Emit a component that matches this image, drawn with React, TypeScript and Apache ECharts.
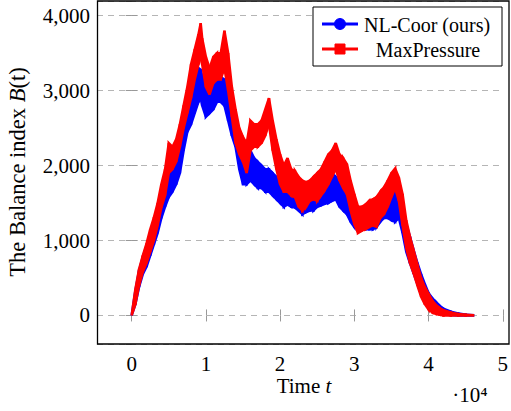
import React, { useEffect, useRef } from "react";
import * as echarts from "echarts";

// time in units of 10^4
const times = [
  0.0, 0.05, 0.1, 0.15, 0.2, 0.25, 0.3, 0.35, 0.4, 0.45, 0.5, 0.55, 0.6, 0.65, 0.7, 0.75, 0.8, 0.85, 0.9, 0.93,
  0.95, 1.0, 1.05, 1.1, 1.15, 1.2, 1.25, 1.3, 1.35, 1.4, 1.45, 1.5, 1.55, 1.6, 1.65, 1.7, 1.75, 1.8, 1.85, 1.9,
  1.95, 2.0, 2.05, 2.1, 2.15, 2.2, 2.25, 2.3, 2.35, 2.4, 2.45, 2.5, 2.55, 2.6, 2.65, 2.7, 2.75, 2.8, 2.85, 2.9,
  2.95, 3.0, 3.05, 3.1, 3.15, 3.2, 3.25, 3.3, 3.35, 3.4, 3.45, 3.5, 3.55, 3.6, 3.65, 3.7, 3.75, 3.8, 3.85, 3.9,
  3.95, 4.0, 4.05, 4.1, 4.15, 4.2, 4.3, 4.4, 4.5, 4.6,
];

// MaxPressure band (low / high envelope of the noisy trace)
const redLow = [
  0, 150, 400, 580, 700, 850, 1000, 1200, 1440, 1600, 1900, 1950, 2050, 2250, 2500, 2700, 2900, 3150, 3350, 3450,
  3350, 3050, 2950, 3100, 3150, 3150, 3300, 3000, 2650, 2300, 2150, 2050, 1900, 2200, 2250, 2250, 2300, 2400, 2550, 2200,
  1950, 1750, 1650, 1650, 1600, 1580, 1450, 1400, 1450, 1530, 1550, 1530, 1600, 1670, 1750, 1850, 1950, 1800, 1700, 1620,
  1400, 1220, 1100, 1130, 1150, 1180, 1200, 1180, 1300, 1350, 1450, 1580, 1700, 1530, 1200, 900, 700, 560, 400, 250,
  150, 80, 40, 20, 10, 0, 0, 0, 0, 0,
];
const redHigh = [
  0, 350, 620, 800, 960, 1150, 1310, 1500, 1750, 1950, 2300, 2250, 2350, 2550, 2800, 3050, 3350, 3550, 3750, 3900,
  3700, 3450, 3300, 3450, 3500, 3500, 3800, 3500, 3050, 2750, 2500, 2380, 2300, 2600, 2550, 2550, 2600, 2750, 2900, 2600,
  2350, 2150, 2000, 2100, 1950, 1930, 1850, 1800, 1780, 1800, 1850, 1900, 1950, 2050, 2150, 2200, 2300, 2150, 2100, 2020,
  1800, 1620, 1450, 1450, 1480, 1530, 1550, 1580, 1650, 1710, 1800, 1900, 1960, 1840, 1620, 1270, 1050, 870, 680, 500,
  380, 290, 200, 140, 100, 70, 40, 20, 10, 5,
];

// NL-Coor (ours) band
const blueLow = [
  0, 150, 380, 550, 650, 800, 950, 1100, 1300, 1450, 1580, 1650, 1750, 1900, 2200, 2450, 2550, 2700, 2850, 2900,
  2800, 2650, 2700, 2750, 2850, 2850, 2800, 2600, 2400, 2250, 1950, 1750, 1750, 1800, 1750, 1700, 1700, 1650, 1650, 1600,
  1550, 1500, 1450, 1480, 1450, 1440, 1400, 1350, 1380, 1400, 1400, 1450, 1470, 1490, 1500, 1530, 1550, 1450, 1400, 1350,
  1250, 1180, 1150, 1150, 1150, 1150, 1150, 1180, 1250, 1300, 1300, 1270, 1250, 1300, 1100, 850, 700, 560, 420, 280,
  180, 100, 60, 45, 30, 15, 5, 0, 0, 0,
];
const blueHigh = [
  0, 330, 600, 780, 930, 1080, 1230, 1400, 1600, 1750, 1900, 1950, 2050, 2300, 2600, 2750, 2900, 3050, 3300, 3280,
  3200, 3100, 3000, 3150, 3200, 3180, 3150, 3000, 2800, 2650, 2400, 2150, 2100, 2200, 2100, 2050, 2000, 1950, 1950, 1900,
  1850, 1830, 1750, 1800, 1700, 1670, 1650, 1650, 1650, 1650, 1700, 1700, 1750, 1800, 1850, 1890, 1850, 1800, 1700, 1650,
  1550, 1530, 1380, 1380, 1400, 1400, 1400, 1420, 1500, 1550, 1600, 1620, 1650, 1550, 1450, 1220, 1050, 870, 700, 550,
  420, 300, 230, 180, 130, 90, 50, 25, 10, 5,
];

const xScaleLabel = "·10⁴";

function bandData(low: number[], high: number[]) {
  const out: number[][] = [];
  for (let i = 0; i < times.length - 1; i++) {
    out.push([times[i], low[i], high[i], times[i + 1], low[i + 1], high[i + 1]]);
  }
  return out;
}

function bandSeries(name: string, color: string, low: number[], high: number[]) {
  return {
    type: "custom",
    name,
    data: bandData(low, high),
    encode: { x: [0, 3], y: [1, 2, 4, 5] },
    renderItem: (_params: any, api: any) => {
      const pts = [
        api.coord([api.value(0), api.value(2)]),
        api.coord([api.value(3), api.value(5)]),
        api.coord([api.value(3), api.value(4)]),
        api.coord([api.value(0), api.value(1)]),
      ];
      return {
        type: "polygon",
        shape: { points: pts },
        style: { fill: color, stroke: color, lineWidth: 2.5 },
      };
    },
    z: 3,
  };
}

const FONT = "'Liberation Serif', 'DejaVu Serif', serif";

export default function App() {
  const ref = useRef<HTMLDivElement>(null);
  useEffect(() => {
    if (!ref.current) return;
    const chart = echarts.init(ref.current, undefined, { renderer: "svg" });
    const xMin = -0.467;
    const xMax = 5.01;
    const yMin = -381;
    const yMax = 4196;
    const tickStyle = { show: true, inside: true, length: 6, lineStyle: { color: "#999", width: 1 } };
    chart.setOption({
      animation: false,
      backgroundColor: "#fff",
      textStyle: { fontFamily: FONT },
      grid: {
        left: 97,
        top: 1,
        right: 2,
        bottom: 67,
        show: false,
      },
      xAxis: [
        {
          type: "value",
          min: xMin,
          max: xMax,
          position: "bottom",
          axisLine: { show: false },
          axisTick: tickStyle,
          splitLine: { show: false },
          axisLabel: {
            showMinLabel: false,
            showMaxLabel: false,
            margin: 9,
            color: "#000",
            fontFamily: FONT,
            fontSize: 21,
            formatter: (v: number) => String(v),
          },
        },
        {
          type: "value",
          min: xMin,
          max: xMax,
          position: "top",
          axisLine: { show: false },
          axisTick: tickStyle,
          splitLine: { show: false },
          axisLabel: { show: false },
        },
      ],
      yAxis: [
        {
          type: "value",
          min: yMin,
          max: yMax,
          position: "left",
          axisLine: { show: false },
          axisTick: tickStyle,
          splitLine: { show: true, lineStyle: { color: "#b5b5b5", type: [6, 5], width: 1 } },
          axisLabel: {
            showMinLabel: false,
            showMaxLabel: false,
            margin: 7,
            color: "#000",
            fontFamily: FONT,
            fontSize: 21,
            formatter: (v: number) => v.toLocaleString("en-US"),
          },
        },
        {
          type: "value",
          min: yMin,
          max: yMax,
          position: "right",
          axisLine: { show: false },
          axisTick: tickStyle,
          splitLine: { show: false },
          axisLabel: { show: false },
        },
      ],
      series: [
        bandSeries("NL-Coor (ours)", "#0000ff", blueLow, blueHigh),
        bandSeries("MaxPressure", "#ff0000", redLow, redHigh),
      ],
      graphic: [
        // plot frame
        {
          type: "rect",
          shape: { x: 97.5, y: 1, width: 411.5, height: 343 },
          style: { fill: "none", stroke: "#000", lineWidth: 1.3 },
          z: 20,
          silent: true,
        },
        {
          type: "text",
          x: 304,
          y: 386,
          style: {
            text: "Time {i|t}",
            fontFamily: FONT,
            fontSize: 21,
            fill: "#000",
            align: "center",
            verticalAlign: "middle",
            rich: { i: { fontStyle: "italic", fontFamily: FONT, fontSize: 21 } },
          },
        },
        {
          type: "text",
          x: 470,
          y: 395,
          style: {
            text: xScaleLabel,
            fontFamily: FONT,
            fontSize: 21,
            fill: "#000",
            align: "center",
            verticalAlign: "middle",
          },
        },
        {
          type: "text",
          x: 17,
          y: 172,
          rotation: Math.PI / 2,
          style: {
            text: "The Balance index {i|B}(t)",
            fontFamily: FONT,
            fontSize: 22.5,
            fill: "#000",
            align: "center",
            verticalAlign: "middle",
            rich: { i: { fontStyle: "italic", fontFamily: FONT, fontSize: 22.5 } },
          },
        },
        // legend box
        {
          type: "rect",
          shape: { x: 313, y: 7, width: 189, height: 59 },
          style: { fill: "#fff", stroke: "#000", lineWidth: 1 },
          z: 10,
        },
        {
          type: "line",
          shape: { x1: 322, y1: 24, x2: 358, y2: 24 },
          style: { stroke: "#0000ff", lineWidth: 3 },
          z: 11,
        },
        {
          type: "circle",
          shape: { cx: 340, cy: 24, r: 5.5 },
          style: { fill: "#0000ff", stroke: "#0000ff" },
          z: 12,
        },
        {
          type: "text",
          x: 364,
          y: 25,
          style: {
            text: "NL-Coor (ours)",
            fontFamily: FONT,
            fontSize: 20,
            fill: "#000",
            align: "left",
            verticalAlign: "middle",
          },
          z: 12,
        },
        {
          type: "line",
          shape: { x1: 322, y1: 49, x2: 358, y2: 49 },
          style: { stroke: "#ff0000", lineWidth: 3 },
          z: 11,
        },
        {
          type: "rect",
          shape: { x: 335, y: 44, width: 10, height: 10 },
          style: { fill: "#ff0000", stroke: "#ff0000" },
          z: 12,
        },
        {
          type: "text",
          x: 428,
          y: 50,
          style: {
            text: "MaxPressure",
            fontFamily: FONT,
            fontSize: 20,
            fill: "#000",
            align: "center",
            verticalAlign: "middle",
          },
          z: 12,
        },
      ],
    });
    return () => chart.dispose();
  }, []);
  return (
    <div
      ref={ref}
      style={{ position: "fixed", left: 0, top: 0, width: 511, height: 411, background: "#fff" }}
    />
  );
}
